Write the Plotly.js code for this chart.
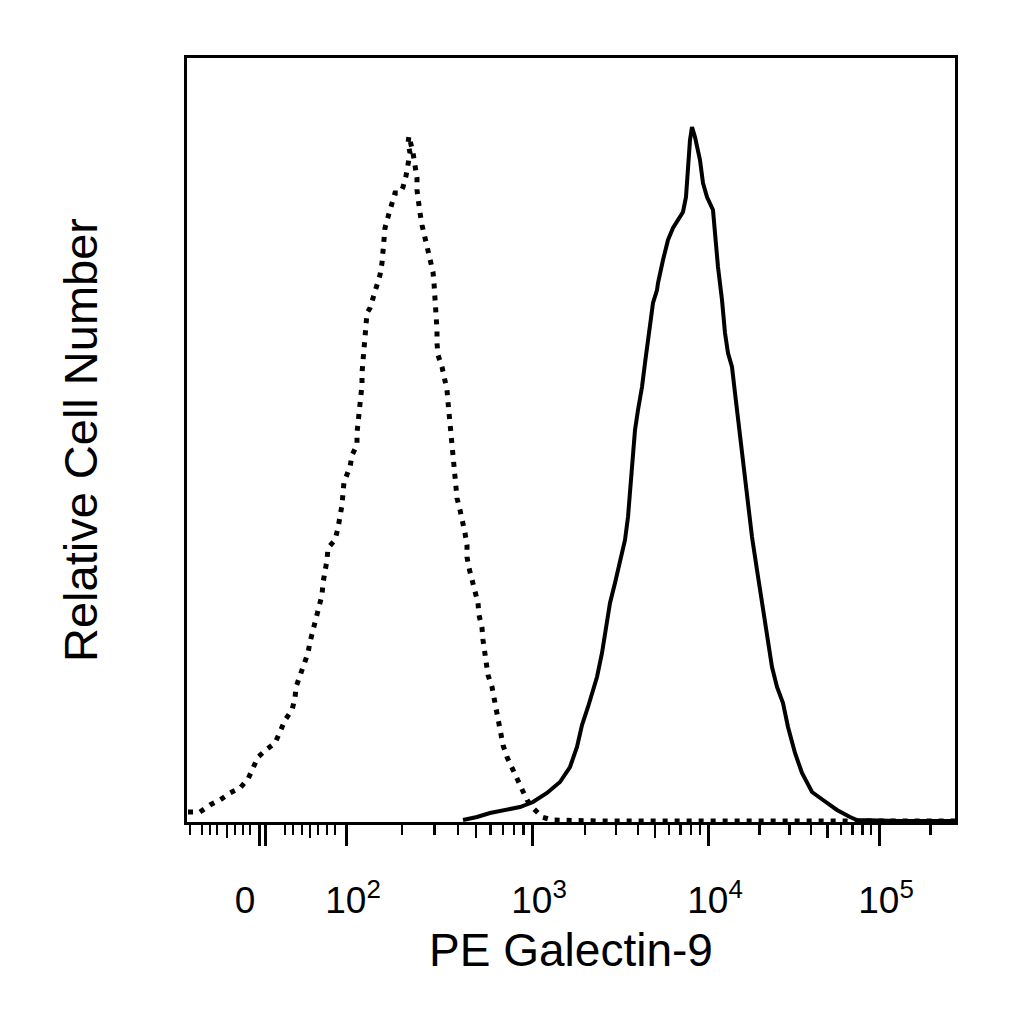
<!DOCTYPE html>
<html>
<head>
<meta charset="utf-8">
<script src="https://cdn.plot.ly/plotly-3.0.1.min.js"></script>
<style>
  html, body { margin: 0; padding: 0; background: #fff; }
  #myDiv { width: 1024px; height: 1024px; }
</style>
</head>
<body>
<div id="myDiv"></div>
<script>
// channel positions (0..768) and relative cell counts
var isoX = [1, 13, 23, 33, 43, 53, 61, 71, 80, 88, 93, 98, 105, 108, 109, 113, 118, 121, 123, 126,
  130, 133, 135, 136, 138, 140, 141, 148, 151, 153, 155, 157, 163, 165, 170, 170, 171, 173, 173, 175,
  175, 176, 176, 177, 178, 180, 183, 186, 190, 193, 195, 196, 196, 198, 201, 205, 208, 213, 216, 219,
  221, 223, 221, 222, 226, 228, 230, 230, 231, 233, 235, 238, 241, 244, 246, 247, 248, 248, 249, 250,
  250, 251, 255, 258, 260, 261, 262, 263, 264, 265, 266, 267, 269, 270, 273, 276, 278, 280, 280, 282,
  285, 288, 291, 292, 295, 296, 298, 300, 301, 305, 307, 310, 311, 314, 316, 320, 325, 330, 335, 340,
  346, 355, 365, 413, 513, 613, 768];
var isoY = [10, 10, 17, 22, 29, 34, 43, 65, 73, 79, 90, 102, 112, 124, 135, 147, 159, 169, 180, 192,
  204, 215, 227, 239, 250, 262, 274, 282, 294, 305, 317, 340, 355, 367, 377, 389, 400, 412, 425, 437,
  449, 460, 472, 484, 495, 509, 514, 524, 535, 547, 559, 570, 582, 594, 605, 617, 629, 629, 635, 646,
  659, 669, 679, 686, 669, 655, 644, 632, 620, 609, 597, 585, 574, 562, 550, 539, 527, 515, 504, 492,
  479, 467, 455, 444, 432, 420, 409, 397, 384, 372, 360, 347, 335, 324, 312, 300, 289, 277, 265, 254,
  242, 230, 219, 207, 194, 182, 170, 159, 147, 135, 124, 112, 100, 89, 77, 65, 54, 42, 30, 22,
  14, 5, 2, 1, 1, 1, 1];

var galX = [276, 290, 303, 320, 333, 346, 360, 373, 383, 390, 395, 401, 410, 415, 420, 423, 428, 433, 438, 441,
  443, 445, 448, 451, 455, 458, 462, 466, 470, 471, 476, 481, 486, 491, 496, 499, 501, 503, 505,
  508, 513, 516, 520, 526, 528, 531, 535, 538, 541, 545, 548, 551, 555, 558, 561, 565, 570, 575, 580,
  585, 590, 596, 601, 608, 615, 625, 636, 650, 663, 670, 713, 768];
var galY = [2, 5, 9, 12, 15, 20, 29, 40, 55, 75, 97, 115, 145, 169, 199, 219, 239, 259, 282, 305,
  327, 355, 392, 412, 435, 459, 489, 519, 532, 539, 562, 582, 594, 602, 610, 625, 655, 682, 695,
  685, 662, 639, 625, 612, 589, 555, 522, 489, 469, 455, 429, 402, 372, 339, 317, 285, 252, 219, 189,
  155, 135, 119, 95, 69, 49, 30, 22, 12, 5, 2, 1, 1];

// axis: channel of each decade and tick labels
var decadeCh = [159, 345, 521, 692];
var zeroCh = [72.5, 78];
var linearMinor = [3, 15, 23, 30, 48, 56, 63, 98, 106, 115, 131, 140, 148];
var linearMid = [40, 123];
var labelCh = [58, 166, 352, 528, 699];
var labelText = ['0', '10<sup>2</sup>', '10<sup>3</sup>', '10<sup>4</sup>', '10<sup>5</sup>'];

var minorTicks = linearMinor.slice();
var midTicks = linearMid.slice();
for (var d = 0; d < decadeCh.length; d++) {
  var span = d < decadeCh.length - 1 ? decadeCh[d + 1] - decadeCh[d] : 171;
  for (var m = 2; m <= 9; m++) {
    var c = decadeCh[d] + span * Math.log10(m);
    if (c > 768) break;
    if (m === 5) midTicks.push(c); else minorTicks.push(c);
  }
}

var font = 'Liberation Sans, Arial, sans-serif';

var data = [
  {
    x: isoX, y: isoY, type: 'scatter', mode: 'lines',
    line: {color: '#000', width: 5, dash: '5px,7px'},
    hoverinfo: 'skip'
  },
  {
    x: galX, y: galY, type: 'scatter', mode: 'lines',
    line: {color: '#000', width: 4},
    hoverinfo: 'skip'
  },
  {x: [], y: [], xaxis: 'x2', type: 'scatter'},
  {x: [], y: [], xaxis: 'x3', type: 'scatter'}
];

var layout = {
  width: 1024, height: 1024,
  margin: {l: 187, r: 69, t: 58, b: 202},
  paper_bgcolor: '#fff', plot_bgcolor: '#fff',
  showlegend: false,
  font: {family: font, color: '#000'},
  xaxis: {
    range: [0, 768], showgrid: false, zeroline: false,
    showline: true, mirror: true, linecolor: '#000', linewidth: 3,
    ticks: 'outside', tickvals: decadeCh.concat(zeroCh), ticklen: 21, tickwidth: 3, tickcolor: '#000',
    showticklabels: false,
    minor: {tickvals: minorTicks, ticks: 'outside', ticklen: 10, tickwidth: 2.5, tickcolor: '#000', showgrid: false},
    title: {text: 'PE Galectin-9', font: {size: 46, family: font}, standoff: 89}
  },
  xaxis2: {
    overlaying: 'x', matches: 'x', anchor: 'y', side: 'bottom',
    showgrid: false, zeroline: false, showline: false,
    tickmode: 'array', tickvals: labelCh, ticktext: labelText,
    ticks: 'outside', ticklen: 46, tickcolor: 'rgba(0,0,0,0)',
    tickfont: {size: 37, family: font}
  },
  xaxis3: {
    overlaying: 'x', matches: 'x', anchor: 'y', side: 'bottom',
    showgrid: false, zeroline: false, showline: false, showticklabels: false,
    tickmode: 'array', tickvals: midTicks,
    ticks: 'outside', ticklen: 15, tickwidth: 2.5, tickcolor: '#000'
  },
  yaxis: {
    range: [0, 764], showgrid: false, zeroline: false,
    showline: true, mirror: true, linecolor: '#000', linewidth: 3,
    ticks: '', showticklabels: false,
    title: {text: 'Relative Cell Number', font: {size: 47, family: font}, standoff: 72}
  }
};

Plotly.newPlot('myDiv', data, layout, {staticPlot: true});
</script>
</body>
</html>
